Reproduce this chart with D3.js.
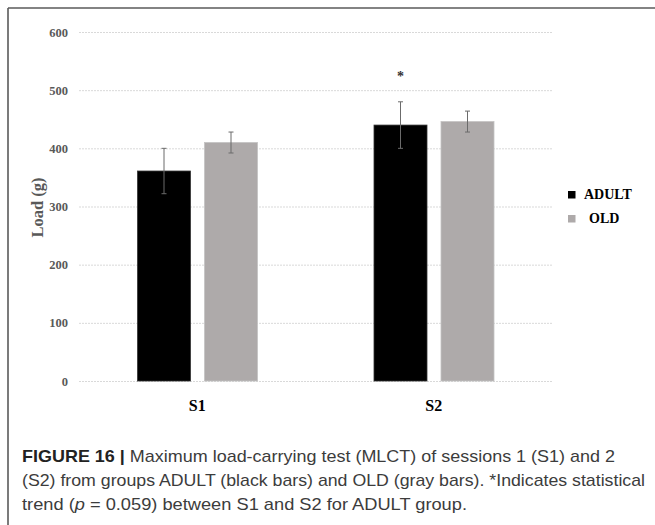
<!DOCTYPE html>
<html>
<head>
<meta charset="utf-8">
<script src="https://cdn.jsdelivr.net/npm/d3@7"></script>
<style>
  html, body { margin: 0; padding: 0; background: #fff; }
  svg { display: block; }
</style>
</head>
<body>
<svg id="chart" width="655" height="525"></svg>
<script>
// ---- data ----
const sessions = ["S1", "S2"];
const groups = ["ADULT", "OLD"];
const adultMeans = [361, 440];
const adultErr = [39, 40];
const oldMeans = [410, 446];
const oldErr = [18, 18];
const yTicks = [0, 100, 200, 300, 400, 500, 600];
const yLabel = "Load (g)";
const significance = ["", "*"]; // marked above ADULT bars
const groupColors = ["#000000", "#aeaaaa"];
const captionLines = [
  [{t: "FIGURE 16 | ", w: "bold"}, {t: "Maximum load-carrying test (MLCT) of sessions 1 (S1) and 2"}],
  [{t: "(S2) from groups ADULT (black bars) and OLD (gray bars). *Indicates statistical"}],
  [{t: "trend ("}, {t: "p", s: "italic"}, {t: " = 0.059) between S1 and S2 for ADULT group."}]
];

const data = sessions.map((s, i) => ({
  session: s,
  values: [
    {group: groups[0], mean: adultMeans[i], err: adultErr[i]},
    {group: groups[1], mean: oldMeans[i], err: oldErr[i]}
  ],
  sig: significance[i]
}));

const svg = d3.select("#chart");
const serif = "'Liberation Serif', 'Times New Roman', serif";
const sans = "'Liberation Sans', Arial, sans-serif";

// frame
svg.append("line").attr("x1", 8).attr("x2", 655).attr("y1", 8).attr("y2", 8)
  .attr("stroke", "#5a5a5a").attr("stroke-width", 1.6);
svg.append("line").attr("x1", 8).attr("x2", 8).attr("y1", 8).attr("y2", 525)
  .attr("stroke", "#5a5a5a").attr("stroke-width", 1.6);

// scales
const x0 = d3.scaleBand().domain(sessions).range([79, 552]).paddingInner(0).paddingOuter(0);
const x1 = d3.scaleBand().domain(groups).range([58.5, 178.5]).paddingInner(14 / 67).paddingOuter(0);
const y = d3.scaleLinear().domain([0, 600]).range([381, 32]);
const color = d3.scaleOrdinal().domain(groups).range(groupColors);

// gridlines
svg.append("g").selectAll("line").data(yTicks).join("line")
  .attr("x1", 79).attr("x2", 552)
  .attr("y1", d => y(d) + 0.5).attr("y2", d => y(d) + 0.5)
  .attr("stroke", "#d9d9d9").attr("stroke-width", 1)
  .attr("stroke-dasharray", "2,1");

// y axis labels
const yAxis = d3.axisLeft(y).tickValues(yTicks).tickSize(0).tickPadding(0);
const yg = svg.append("g").attr("transform", "translate(68,0)").call(yAxis);
yg.select(".domain").remove();
yg.selectAll("text")
  .attr("font-family", serif).attr("font-weight", "bold")
  .attr("font-size", 12.5).attr("fill", "#595959");

// y label
svg.append("text")
  .attr("transform", "translate(43,207.5) rotate(-90)")
  .attr("text-anchor", "middle")
  .attr("font-family", serif).attr("font-weight", "bold")
  .attr("font-size", 16.5).attr("fill", "#595959")
  .text(yLabel);

// bars
const sg = svg.append("g").selectAll("g").data(data).join("g")
  .attr("transform", d => `translate(${x0(d.session)},0)`);

sg.selectAll("rect").data(d => d.values).join("rect")
  .attr("x", d => x1(d.group))
  .attr("y", d => y(d.mean))
  .attr("width", x1.bandwidth())
  .attr("height", d => y(0) - y(d.mean))
  .attr("fill", d => color(d.group))
  .attr("stroke", d => d.group === "ADULT" ? "#333" : "#c4c2c2")
  .attr("stroke-width", 0.8);

// error bars
const eb = sg.selectAll("g.err").data(d => d.values).join("g").attr("class", "err");
eb.append("line")
  .attr("x1", d => x1(d.group) + x1.bandwidth() / 2)
  .attr("x2", d => x1(d.group) + x1.bandwidth() / 2)
  .attr("y1", d => y(d.mean + d.err)).attr("y2", d => y(d.mean - d.err))
  .attr("stroke", "#6b6b6b").attr("stroke-width", 1);
eb.selectAll("line.cap").data(d => [
  {g: d.group, v: d.mean + d.err}, {g: d.group, v: d.mean - d.err}
]).join("line").attr("class", "cap")
  .attr("x1", d => x1(d.g) + x1.bandwidth() / 2 - 2.5)
  .attr("x2", d => x1(d.g) + x1.bandwidth() / 2 + 2.5)
  .attr("y1", d => y(d.v)).attr("y2", d => y(d.v))
  .attr("stroke", "#6b6b6b").attr("stroke-width", 1);

// significance marker
sg.filter(d => d.sig).append("text")
  .attr("x", d => x1(groups[0]) + x1.bandwidth() / 2)
  .attr("y", 81)
  .attr("text-anchor", "middle")
  .attr("font-family", serif).attr("font-weight", "bold")
  .attr("font-size", 14).attr("fill", "#333")
  .text(d => d.sig);

// x labels
const xAxis = d3.axisBottom(x0).tickSize(0).tickPadding(0);
const xg = svg.append("g").attr("transform", "translate(0,400)").call(xAxis);
xg.select(".domain").remove();
xg.selectAll("text")
  .attr("font-family", serif).attr("font-weight", "bold")
  .attr("font-size", 16).attr("fill", "#000").attr("dy", "0.71em");

// legend
const lg = svg.append("g").selectAll("g").data(groups).join("g")
  .attr("transform", (d, i) => `translate(568,${191 + i * 24})`);
lg.append("rect").attr("width", 7.5).attr("height", 7.5)
  .attr("fill", d => color(d));
lg.append("text")
  .attr("x", (d, i) => i === 0 ? 16 : 21)
  .attr("y", 8)
  .attr("font-family", serif).attr("font-weight", "bold")
  .attr("font-size", 14).attr("fill", "#000")
  .text(d => d);

// caption
const lineWidths = [593, 623, 445];
captionLines.forEach((parts, i) => {
  const t = svg.append("text")
    .attr("x", 22).attr("y", 462 + i * 24)
    .attr("font-family", sans).attr("font-size", 17)
    .attr("fill", "#3c3c3c");
  parts.forEach(p => {
    t.append("tspan")
      .attr("font-weight", p.w || "normal")
      .attr("font-style", p.s || "normal")
      .attr("fill", p.w ? "#222" : "#3c3c3c")
      .text(p.t);
  });
  t.attr("textLength", lineWidths[i]).attr("lengthAdjust", "spacingAndGlyphs");
});
</script>
</body>
</html>
